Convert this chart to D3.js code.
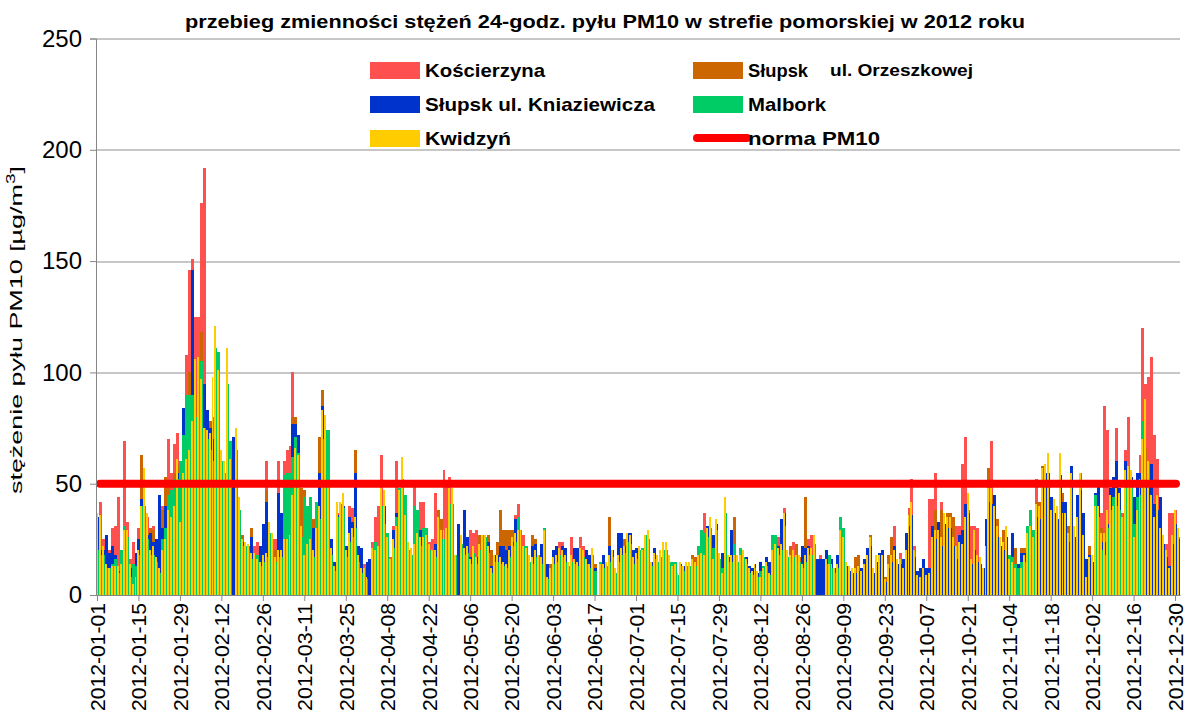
<!DOCTYPE html>
<html>
<head>
<meta charset="utf-8">
<script src="https://cdn.jsdelivr.net/npm/d3@7"></script>
<style>
  body { margin: 0; background: #fff; }
  svg { display: block; }
</style>
</head>
<body>
<svg id="chart" width="1187" height="722"></svg>
<script>
"use strict";

// categories: every day of 2012
var days = d3.timeDay.range(new Date(2012, 0, 1), new Date(2013, 0, 1)).map(d3.timeFormat("%Y-%m-%d"));

var tickLabels = ["2012-01-01", "2012-01-15", "2012-01-29", "2012-02-12", "2012-02-26", "2012-03-11",
    "2012-03-25", "2012-04-08", "2012-04-22", "2012-05-06", "2012-05-20", "2012-06-03", "2012-06-17",
    "2012-07-01", "2012-07-15", "2012-07-29", "2012-08-12", "2012-08-26", "2012-09-09", "2012-09-23",
    "2012-10-07", "2012-10-21", "2012-11-04", "2012-11-18", "2012-12-02", "2012-12-16", "2012-12-30"];

var yTicks = [0, 50, 100, 150, 200, 250];
var normaPM10 = 50;

// 24h PM10 [ug/m3], one value per day
var koscierzyna = [
    30,42,25,20,20,30,31,44,17,69, 33,16,24,19,30,57,40,35,28,31, 22,20,40,45,70,55,68,73,60,75,
    108,146,151,125,125,176,192,80,70,80, 100,90,55,50,90,50,55,60,35,22, 20,20,22,22,24,14,30,60,22,25,
    25,60,30,60,65,67,100,60,55,48, 42,20,22,18,28,35,70,70,45,20, 12,37,41,40,18,40,39,30,16,11,
    14,8,12,24,35,40,63,40,22,17, 31,60,45,50,30,20,18,49,35,42, 42,23,24,25,46,38,34,56,51,53,
    40,15,25,22,18,20,29,28,29,26, 22,22,19,10,15,15,15,13,12,17, 22,36,41,25,27,18,15,14,17,15,
    15,25,7,10,20,20,24,24,16,13, 26,14,13,26,22,14,12,18,10,null, 12,12,13,15,17,10,15,18,19,24,
    23,15,16,19,17,23,25,13,16,15, 17,20,20,15,11,12,9,12,11,13, 13,14,13,15,16,37,25,30,14,28,
    16,9,35,15,15,15,15,21,17,14, 10,9,12,9,7,10,13,9,17,19, 26,20,39,17,15,24,23,15,12,15,
    25,27,23,14,18,14,14,12,12,10, 12,24,22,13,11,10,10,11,9,12, 15,22,10,15,15,15,6,12,15,31,
    14,19,10,28,39,52,22,8,7,10, 8,43,43,55,25,42,31,30,30,31, 31,31,59,71,38,31,31,30,14,10,
    19,40,69,34,26,22,20,26,13,13, 10,10,10,15,24,26,22,52,34,48, 50,54,32,36,34,54,31,31,24,47,
    26,30,47,23,7,14,15,34,34,37, 85,74,38,48,75,39,37,65,80,48, 22,32,63,120,95,98,107,72,61,26,
    23,23,37,37,38,26];

var slupskOrzeszkowej = [
    28,25,18,15,15,18,16,12,14,25, 22,10,10,12,22,63,35,28,30,29, 20,18,38,53,50,45,55,58,50,65,
    80,100,120,90,90,118,80,70,78,70, 90,80,50,45,80,45,50,55,33,27, 18,22,30,15,12,11,14,47,25,21,
    20,15,30,20,45,50,80,80,50,48, 47,18,34,34,40,71,92,60,38,16, 10,33,32,35,22,21,22,65,14,9,
    9,6,10,16,15,17,36,35,20,12, 19,23,35,46,27,18,16,17,21,20, 20,20,17,15,15,38,34,22,30,36,
    36,14,20,20,16,17,12,17,13,27, 20,20,27,20,14,24,38,29,29,29, 29,21,22,22,17,16,14,27,25,14,
    13,22,14,14,13,14,16,15,14,11, 14,12,11,16,15,12,17,16,14,null, 11,11,11,35,15,9,14,16,25,21,
    20,13,14,17,15,20,22,11,14,14, 15,18,18,14,10,11,8,11,10,11, 11,18,17,14,14,14,23,26,12,26,
    14,8,33,14,14,35,14,14,15,12, 9,8,11,8,6,9,11,8,15,17, 16,17,28,15,22,15,23,17,11,44,
    16,16,20,12,12,12,12,11,11,9, 11,23,20,12,10,9,17,18,8,11, 14,27,9,14,14,14,8,18,26,15,
    12,12,9,15,27,32,15,7,6,9, 7,8,20,38,22,38,28,37,37,35, 14,18,17,26,35,12,18,14,13,9,
    17,57,46,30,34,20,29,23,12,11, 21,9,21,21,21,23,20,42,42,58, 44,48,29,32,30,46,46,28,31,41,
    23,26,55,20,6,22,14,30,30,30, 21,28,34,30,36,35,26,42,44,42, 20,28,39,53,66,45,34,26,34,22,
    20,15,9,20,28,22];

var slupskKniaziewicza = [
    35,20,20,27,19,22,18,11,15,22, 20,12,14,19,25,43,30,27,28,24, 25,45,30,40,42,40,50,55,48,84,
    84,84,146,60,80,80,95,83,75,70, 90,80,55,50,85,50,71,60,38,24, 20,20,26,16,14,22,32,42,28,24,
    15,46,37,21,21,23,77,77,72,26, 15,20,21,30,30,55,85,70,40,25, 15,36,36,40,22,35,33,55,22,21,
    10,15,16,18,17,19,40,40,22,14, 29,37,40,50,30,20,18,20,24,29, 22,23,20,17,23,30,25,25,26,41,
    41,15,32,22,38,26,17,18,17,20, 23,23,24,13,18,18,22,22,20,22, 24,34,25,25,19,18,13,22,23,15,
    23,25,14,10,20,22,18,22,21,13, 15,21,21,18,17,20,18,18,12,null, 12,18,13,22,20,10,28,28,22,28,
    28,20,21,19,17,23,25,15,21,15, 17,20,20,15,11,12,8,14,13,13, 13,14,13,15,16,28,31,30,27,32,
    16,19,37,17,29,15,15,15,17,17, 13,12,14,10,15,10,17,15,16,20, 22,34,37,17,15,17,15,15,22,21,
    22,18,23,16,16,16,20,12,16,12, 18,25,22,13,11,10,10,11,12,16, 21,22,10,15,19,20,6,12,15,22,
    14,14,16,28,31,36,17,11,12,16, 12,12,31,25,33,22,32,30,30,22, 16,27,29,41,37,14,20,15,14,12,
    34,42,41,45,26,22,20,26,14,28, 10,14,19,19,24,26,29,35,34,49, 55,55,44,37,34,54,42,42,24,58,
    26,45,47,37,16,18,15,46,49,24, 24,32,48,53,60,48,30,60,49,53, 44,55,55,55,50,50,59,41,38,44,
    23,17,13,23,32,25];

var malbork = [
    20,18,18,12,12,14,16,10,20,31, 26,8,14,13,18,40,30,25,18,18, 15,10,25,30,45,47,52,52,60,72,
    90,90,90,80,100,105,75,70,65,60, 111,109,60,55,95,69,null,65,38,22, 22,20,16,18,18,13,15,17,28,24,
    15,17,17,54,55,55,62,71,64,26, 44,40,44,17,42,34,70,74,74,18, 11,35,36,39,17,24,26,30,15,10,
    10,7,null,18,24,19,40,32,28,14, 21,35,48,52,45,20,18,40,38,22, 30,30,20,17,17,30,25,25,26,41,
    41,18,null,23,18,19,14,19,14,20, 27,26,19,10,15,15,14,13,12,17, 22,24,35,29,22,22,15,14,17,18,
    14,30,7,10,14,15,18,17,15,13, 15,14,13,18,17,14,12,18,11,null, 15,12,13,15,17,10,15,18,19,24,
    23,14,16,20,21,27,25,13,16,15, 17,20,20,15,15,15,9,13,11,13, 13,14,13,22,29,28,26,30,21,29,
    16,12,37,15,15,23,15,21,17,14, 10,9,12,8,11,13,13,9,27,27, 18,20,31,17,15,17,15,15,12,15,
    18,18,23,null,null,null,14,18,12,10, 12,35,30,null,null,null,null,null,null,null,
    null,null,null,null,null,null,null,null,null,null, null,null,null,null,null,null,null,null,null,null,
    null,null,null,null,null,null,null,null,null,null, null,null,null,null,null,null,null,null,null,null,
    null,null,null,null,null,null,null,null,18,17, 14,12,15,15,31,38,29,null,null,null,
    null,null,null,null,null,null,null,null,null,null, null,null,null,null,null,null,null,45,35,20,
    18,30,38,44,40,38,30,48,50,48, 32,44,45,78,null,null,null,null,null,null,
    null,null,null,null,null,null];

var kwidzyn = [
    37,36,22,14,12,13,13,13,14,29, 29,14,5,8,20,40,57,37,20,22, 17,12,20,25,38,35,40,61,33,55,
    61,65,78,106,107,97,75,74,73,98, 121,101,65,60,111,61,null,75,44,25, 24,23,19,19,16,15,18,19,33,28,
    17,20,20,25,25,27,45,66,63,31, 18,23,25,20,30,40,83,81,50,21, 13,42,42,46,20,28,30,35,18,12,
    12,8,null,21,20,22,48,47,26,16, 25,31,47,62,36,24,21,23,28,26, 26,27,23,20,20,35,29,29,30,48,
    48,18,null,27,21,22,16,22,17,23, 27,27,22,12,18,18,17,15,14,20, 26,28,29,29,22,21,18,17,20,18,
    17,29,8,12,17,18,21,20,18,15, 18,16,15,21,20,16,14,21,null,null, 14,14,15,18,20,12,18,21,22,28,
    27,17,19,22,20,27,29,15,19,18, 20,24,24,18,13,14,10,15,13,15, 15,16,15,18,19,18,30,35,16,34,
    19,10,44,18,18,18,18,18,20,16, 12,11,14,11,8,12,15,10,20,23, 21,23,37,20,18,20,18,18,14,18,
    21,21,27,null,null,null,16,14,14,12, 14,29,26,15,13,12,12,13,11,14, 18,26,12,18,18,18,7,14,18,20,
    16,16,12,20,36,42,20,9,8,12, 9,10,26,29,29,26,37,35,35,26, 22,24,23,35,46,16,29,18,17,12,
    22,48,48,40,31,26,24,31,16,15, 12,null,12,18,28,31,26,41,40,57, 59,64,38,43,40,64,37,37,28,55,
    31,35,55,27,8,17,18,40,40,28, 28,38,45,40,48,46,35,56,58,56, 26,38,52,70,88,60,45,35,45,30,
    27,20,12,27,38,30];

// drawing order: first is at the back
var series = [
    {name: "Kościerzyna", values: koscierzyna, color: "#ff5050"},
    {name: "Słupsk ul. Orzeszkowej", values: slupskOrzeszkowej, color: "#cc6600"},
    {name: "Słupsk ul. Kniaziewicza", values: slupskKniaziewicza, color: "#0033cc"},
    {name: "Malbork", values: malbork, color: "#00cc66"},
    {name: "Kwidzyń", values: kwidzyn, color: "#ffcc00"}
];

var margin = {top: 38.5, right: 7, bottom: 127, left: 96};
var width = 1187 - margin.left - margin.right;
var height = 722 - margin.top - margin.bottom;

var svg = d3.select("#chart");
svg.append("rect").attr("width", 1187).attr("height", 722).attr("fill", "#fff");

var x = d3.scaleBand().domain(days).range([0, width]).padding(0);
var y = d3.scaleLinear().domain([0, 250]).range([height, 0]);

var g = svg.append("g").attr("transform", "translate(" + margin.left + "," + margin.top + ")");

// gridlines
g.append("g").selectAll("line")
    .data(yTicks.filter(function(d) { return d > 0; }))
    .enter().append("line")
    .attr("x1", 0).attr("x2", width)
    .attr("y1", function(d) { return Math.round(y(d)) + 0.5; })
    .attr("y2", function(d) { return Math.round(y(d)) + 0.5; })
    .attr("stroke", "#8e8e8e").attr("stroke-width", 1);

// overlapping bars (front series a bit narrower, so the ones behind show as thin lines)
series.forEach(function(s, i) {
    var front = i === series.length - 1;
    g.append("g").attr("class", "series")
        .attr("shape-rendering", "crispEdges")
        .selectAll("rect")
        .data(s.values.map(function(v, k) { return {day: days[k], v: v}; })
            .filter(function(d) { return d.v !== null; }))
        .enter().append("rect")
        .attr("x", function(d) { return x(d.day); })
        .attr("width", front ? x.bandwidth() - 1 : x.bandwidth())
        .attr("y", function(d) { return y(d.v); })
        .attr("height", function(d) { return height - y(d.v); })
        .attr("fill", s.color);
});

// PM10 limit line
g.append("line")
    .attr("x1", 4).attr("x2", width - 4)
    .attr("y1", y(normaPM10)).attr("y2", y(normaPM10))
    .attr("stroke", "#ff0000").attr("stroke-width", 8)
    .attr("stroke-linecap", "round");

// axes
var yAxis = d3.axisLeft(y).tickValues(yTicks).tickSize(6).tickPadding(8);
var yg = g.append("g").call(yAxis);
yg.select(".domain").attr("stroke", "#868686");
yg.selectAll(".tick line").attr("stroke", "#868686");
yg.selectAll(".tick text")
    .attr("font-family", "'Liberation Sans', Arial, sans-serif")
    .attr("font-size", 24).attr("fill", "#000");

var xAxis = d3.axisBottom(x)
    .tickValues(tickLabels)
    .tickSize(6).tickSizeOuter(0);
var xg = g.append("g").attr("transform", "translate(0," + height + ")").call(xAxis);
xg.select(".domain").attr("stroke", "#868686");
xg.selectAll(".tick line").attr("stroke", "#868686");
xg.selectAll(".tick text")
    .attr("font-family", "'Liberation Sans', Arial, sans-serif")
    .attr("font-size", 21).attr("fill", "#000")
    .attr("textLength", 108).attr("lengthAdjust", "spacingAndGlyphs")
    .attr("text-anchor", "end")
    .attr("transform", "rotate(-90)")
    .attr("x", -8).attr("y", 0).attr("dy", "0.35em");

// y axis title
var ytitle = svg.append("text")
    .attr("transform", "translate(22,330) rotate(-90)")
    .attr("text-anchor", "middle")
    .attr("font-family", "'Liberation Sans', Arial, sans-serif")
    .attr("font-size", 17).attr("fill", "#000")
    .attr("textLength", 328).attr("lengthAdjust", "spacingAndGlyphs");
ytitle.append("tspan").text("stężenie pyłu PM10 [µg/m");
ytitle.append("tspan").attr("dy", -7).attr("font-size", 12).text("3");
ytitle.append("tspan").attr("dy", 7).text("]");

// title
svg.append("text")
    .attr("x", 185).attr("y", 28)
    .attr("font-family", "'Liberation Sans', Arial, sans-serif")
    .attr("font-weight", "bold").attr("font-size", 19).attr("fill", "#000")
    .attr("textLength", 840).attr("lengthAdjust", "spacingAndGlyphs")
    .text("przebieg zmienności stężeń  24-godz. pyłu PM10 w strefie pomorskiej w 2012 roku");

// legend
var legendItems = [
    {label: "Kościerzyna", color: "#ff5050", col: 0, row: 0, len: 120},
    {label: "Słupsk", extra: "ul. Orzeszkowej", color: "#cc6600", col: 1, row: 0, len: 60},
    {label: "Słupsk ul. Kniaziewicza", color: "#0033cc", col: 0, row: 1, len: 230},
    {label: "Malbork", color: "#00cc66", col: 1, row: 1, len: 78},
    {label: "Kwidzyń", color: "#ffcc00", col: 0, row: 2, len: 86},
    {label: "norma PM10", color: "#ff0000", col: 1, row: 2, len: 132, line: true}
];
var colX = [370, 693], rowY = [70, 104, 138];

var legend = svg.append("g").attr("class", "legend");
legendItems.forEach(function(d) {
    var lx = colX[d.col], ly = rowY[d.row];
    if (d.line) {
        legend.append("line")
            .attr("x1", lx + 4).attr("x2", lx + 54)
            .attr("y1", ly).attr("y2", ly)
            .attr("stroke", d.color).attr("stroke-width", 8).attr("stroke-linecap", "round");
    } else {
        legend.append("rect")
            .attr("x", lx).attr("y", ly - 8).attr("width", 50).attr("height", 17)
            .attr("fill", d.color);
    }
    legend.append("text")
        .attr("x", lx + 55).attr("y", ly + 7)
        .attr("font-family", "'Liberation Sans', Arial, sans-serif")
        .attr("font-weight", "bold").attr("font-size", 19).attr("fill", "#000")
        .attr("textLength", d.len).attr("lengthAdjust", "spacingAndGlyphs")
        .text(d.label);
    if (d.extra) {
        legend.append("text")
            .attr("x", lx + 137).attr("y", ly + 6)
            .attr("font-family", "'Liberation Sans', Arial, sans-serif")
            .attr("font-weight", "bold").attr("font-size", 16).attr("fill", "#000")
            .attr("textLength", 143).attr("lengthAdjust", "spacingAndGlyphs")
            .text(d.extra);
    }
});
</script>
</body>
</html>
